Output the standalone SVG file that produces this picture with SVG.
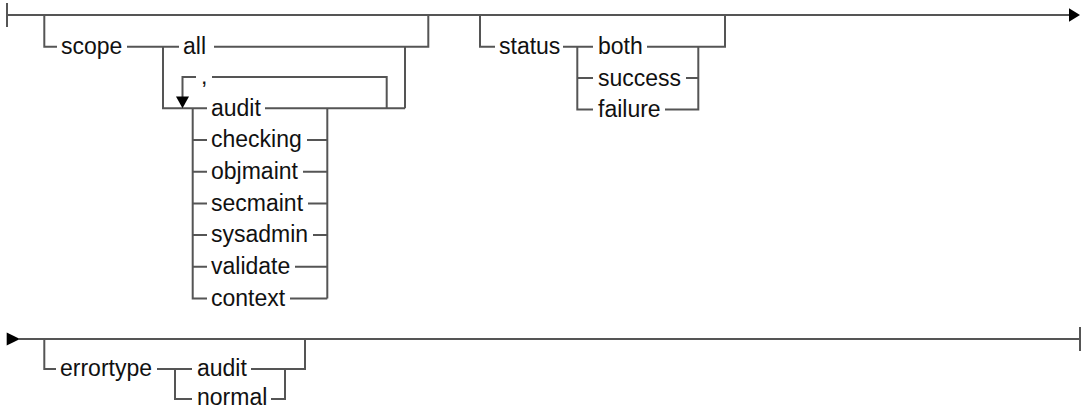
<svg xmlns="http://www.w3.org/2000/svg" width="1081" height="410" viewBox="0 0 1081 410">
<style>
.l{fill:none;stroke:#555;stroke-width:2;stroke-linecap:butt;stroke-linejoin:miter}
.a{fill:#000;stroke:none}
text{font-family:"Liberation Sans",Arial,Helvetica,sans-serif;font-size:23px;fill:#111}
</style>
<rect width="1081" height="410" fill="#fff"/>
<g id="connectors">
<path class="l" d="M7,3V27M7,15H1070"/>
<path class="a" d="M1069,8.3L1080,15L1069,21.7Z"/>
<path class="l" d="M44.3,15V46.7H57"/>
<path class="l" d="M127,46.7H179M163,46.7V108.3H207"/>
<path class="l" d="M214,46.7H428.3V15M405,46.7V108.3"/>
<path class="l" d="M182.5,97V77H196M212,77H386.7V108.3"/>
<path class="a" d="M176,96.5L189,96.5L182.5,108.3Z"/>
<path class="l" d="M265,108.3H405"/>
<path class="l" d="M192.7,108.3V298.5H207"/>
<path class="l" d="M192.7,140H207M192.7,171.7H207M192.7,203.4H207M192.7,235.1H207M192.7,266.8H207"/>
<path class="l" d="M327.3,108.3V298.5"/>
<path class="l" d="M307,140H327.3M303,171.7H327.3M308,203.4H327.3M313,235.1H327.3M295,266.8H327.3M290,298.5H327.3"/>
<path class="l" d="M480,15V46.7H495"/>
<path class="l" d="M563,46.7H593M577.3,46.7V109.5H593M577.3,78.1H593"/>
<path class="l" d="M647,46.7H725V15M698.3,46.7V109.5H665M686,78.1H698.3"/>
<path class="a" d="M6.7,332.5L20,339L6.7,345.5Z"/>
<path class="l" d="M19,339H1080M1080,327V351"/>
<path class="l" d="M44.3,339V369H56"/>
<path class="l" d="M157,369H192M175,369V399H192"/>
<path class="l" d="M251,369H305V339M285,369V399H271"/>
</g>
<g id="n-scope"><text x="61" y="54">scope</text></g>
<g id="n-all"><text x="183" y="54">all</text></g>
<g id="n-comma"><text x="201" y="84">,</text></g>
<g id="n-audit"><text x="211" y="115.5">audit</text></g>
<g id="n-checking"><text x="211" y="147">checking</text></g>
<g id="n-objmaint"><text x="211" y="179">objmaint</text></g>
<g id="n-secmaint"><text x="211" y="210.5">secmaint</text></g>
<g id="n-sysadmin"><text x="211" y="242">sysadmin</text></g>
<g id="n-validate"><text x="211" y="274">validate</text></g>
<g id="n-context"><text x="211" y="305.5">context</text></g>
<g id="n-status"><text x="499" y="54">status</text></g>
<g id="n-both"><text x="598" y="54">both</text></g>
<g id="n-success"><text x="598" y="85.5">success</text></g>
<g id="n-failure"><text x="598" y="117">failure</text></g>
<g id="n-errortype"><text x="60" y="376">errortype</text></g>
<g id="n-audit2"><text x="197" y="376">audit</text></g>
<g id="n-normal"><text x="197" y="405">normal</text></g>
</svg>
